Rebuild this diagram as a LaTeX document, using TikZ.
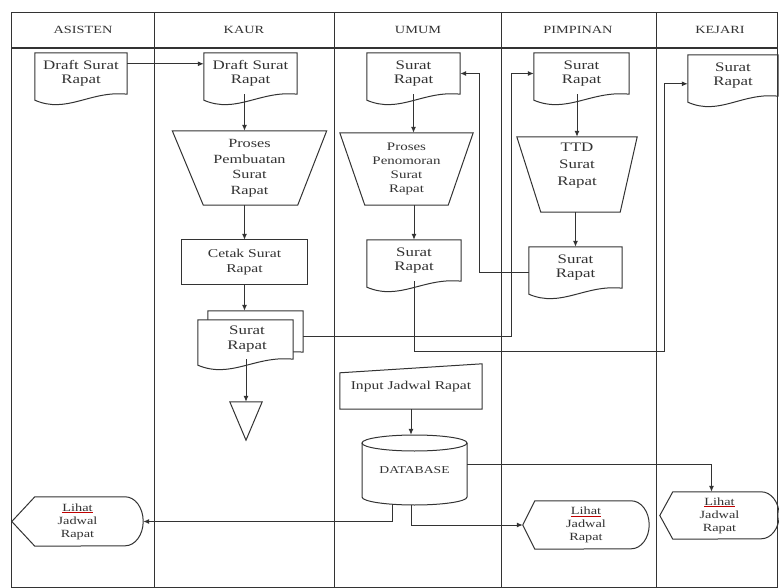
\documentclass[tikz,border=0pt]{standalone}
\usepackage{fontspec}
\setmainfont{Liberation Serif}[FakeStretch=1.3]
\usetikzlibrary{calc,arrows.meta}
\definecolor{ink}{HTML}{333333}
\newcommand\txt{\fontsize{12}{14.5}\selectfont}
\newcommand\dctxt{\fontsize{13}{14.5}\selectfont}
\newcommand\hdr{\fontsize{11}{13}\selectfont}
\newcommand\dtxt{\fontsize{11}{13}\selectfont}
\newcommand\docshape[2][]{\draw[ln,#1] (#2.north west) -- (#2.north east) -- (#2.south east) .. controls ($(#2.south east)!0.4!(#2.south west)+(0,-4)$) and ($(#2.south west)!0.35!(#2.south east)+(0,20)$) .. ($(#2.south west)+(0,6)$) -- cycle;}
\newcommand\trapshape[3]{\draw[ln] (#1.north west) -- (#1.north east) -- ($(#1.south east)+(-#3,0)$) -- ($(#1.south west)+(#2,0)$) -- cycle;}
\newcommand\dispshape[3]{\draw[ln] (#1.west) -- ($(#1.north west)+(#2,0)$) -- ($(#1.north east)+(-18,0)$) arc[start angle=270, end angle=450, x radius=18, y radius=#3] -- ($(#1.south west)+(#2,0)$) -- cycle;}
\newcommand\lihat{{\color{red!75!black}\underline{\color{ink}Lihat}}}
\tikzset{
  ln/.style={draw=ink, line width=1pt},
  arr/.style={ln, -{Latex[length=6pt,width=5pt]}},
  nb/.style={inner sep=0pt, align=center, font=\txt, text=ink},
  dc/.style={nb, font=\dctxt},
  hd/.style={inner sep=0pt, font=\hdr, text=ink},
}
\begin{document}
\begin{tikzpicture}[x=1pt,y=-1pt]
\fill[white] (0,0) rectangle (779,588);
\useasboundingbox (0,0) rectangle (779,588);
% frame and lanes
\draw[ln] (11,13) rectangle (777,587);
\draw[ln, line width=1.7pt] (11,48) -- (777,48);
\foreach \x in {154,334,501,656} \draw[ln] (\x,13) -- (\x,587);
\node[hd] (hA) at (83,30) {ASISTEN};
\node[hd] (hK) at (244,30) {KAUR};
\node[hd] (hU) at (418,30) {UMUM};
\node[hd] (hP) at (578,30) {PIMPINAN};
\node[hd] (hKj) at (720,30) {KEJARI};

% ASISTEN
\node[dc, minimum width=92pt, minimum height=41pt] (dA) at (81,73.5) {Draft Surat\\Rapat};
\docshape{dA}
% KAUR
\node[dc, minimum width=93pt, minimum height=41pt] (dK) at (250.5,73.5) {Draft Surat\\Rapat};
\docshape{dK}
\node[nb, minimum width=154pt, minimum height=74pt, font=\fontsize{12.5}{15.5}\selectfont] (tK) at (249.5,168) {Proses\\Pembuatan\\Surat\\Rapat};
\trapshape{tK}{31}{29}
\node[nb, minimum width=125pt, minimum height=44pt] (bC) at (244.5,262) {Cetak Surat\\Rapat};
\draw[ln] (bC.north west) rectangle (bC.south east);
\node[nb, minimum width=95pt, minimum height=41pt] (dMb) at (255.5,331.5) {};
\docshape[fill=white]{dMb}
\node[nb, minimum width=95pt, minimum height=39pt] (dM) at (245.5,339.5) {};
\docshape[fill=white]{dM}
\node[dc] (dMt) at (247,339) {Surat\\Rapat};
\node[nb, minimum width=32pt, minimum height=38pt] (tri) at (246,421) {};
\draw[ln] (tri.north west) -- (tri.north east) -- (tri.south) -- cycle;

% UMUM
\node[dc, minimum width=93pt, minimum height=41pt] (dU1) at (413.5,73.5) {Surat\\Rapat};
\docshape{dU1}
\node[nb, minimum width=133pt, minimum height=72pt, font=\fontsize{11.5}{14}\selectfont] (tU) at (406.5,169) {Proses\\Penomoran\\Surat\\Rapat};
\trapshape{tU}{25}{25}
\node[dc, minimum width=94pt, minimum height=41pt] (dU2) at (414,260.5) {Surat\\Rapat};
\docshape{dU2}
\node[nb, minimum width=142pt, minimum height=45pt] (mI) at (411,386.5) {Input Jadwal Rapat};
\draw[ln] (mI.south west) -- ($(mI.north west)+(0,9)$) -- (mI.north east) -- (mI.south east) -- cycle;
\node[nb, minimum width=105pt, minimum height=70pt, font=\fontsize{10.5}{12}\selectfont] (DB) at (414.5,470) {DATABASE};
\draw[ln] (414.5,443) ellipse [x radius=52.5, y radius=8];
\draw[ln] (362,443) -- (362,497) arc[start angle=180, end angle=0, x radius=52.5, y radius=8] -- (467,443);

% PIMPINAN
\node[dc, minimum width=95pt, minimum height=41pt] (dP1) at (581.5,73.5) {Surat\\Rapat};
\docshape{dP1}
\node[nb, minimum width=120pt, minimum height=75pt] (tP) at (577,174.5) {};
\trapshape{tP}{24}{17}
\node[nb, font=\fontsize{13}{17}\selectfont] (tPt) at (577,166) {TTD\\Surat\\Rapat};
\node[dc, minimum width=93pt, minimum height=41pt] (dP2) at (575.5,267.5) {Surat\\Rapat};
\docshape{dP2}

% KEJARI
\node[dc, minimum width=90pt, minimum height=41pt] (dKj) at (733,75.5) {Surat\\Rapat};
\docshape{dKj}

% displays
\node[nb, font=\dtxt, minimum width=131pt, minimum height=49pt] (dAd) at (77.5,521.5) {\lihat\\Jadwal\\Rapat};
\dispshape{dAd}{23}{24.5}
\node[nb, font=\dtxt, minimum width=126pt, minimum height=48pt] (dPd) at (586,525) {\lihat\\Jadwal\\Rapat};
\dispshape{dPd}{12}{24}
\node[nb, font=\dtxt, minimum width=119pt, minimum height=47pt] (dKd) at (719.5,515.5) {\lihat\\Jadwal\\Rapat};
\dispshape{dKd}{13}{23.5}

% connectors
\coordinate (v1) at (511,0);
\coordinate (v2) at (479,0);
\coordinate (v3) at (664,0);
\coordinate (h3) at (0,351);
\draw[arr] ($(dA.north east)+(0,11)$) -- ($(dK.north west)+(0,11)$);
\draw[arr] ($(dK.south)+(-6,0)$) coordinate (k1) -- (k1 |- tK.north);
\draw[arr] (bC.north |- tK.south) -- (bC.north);
\draw[arr] (bC.south) -- (bC.south |- dMb.north);
\draw[arr] (tri.north |- dM.south) -- (tri.north);
\draw[arr] ($(dMb.east)+(0,5)$) coordinate (m1) -- (m1 -| v1) |- (dP1.west);
\draw[arr] ($(dP2.west)+(0,5)$) coordinate (p1) -- (p1 -| v2) |- (dU1.east);
\draw[arr] (dU1.south) -- (dU1.south |- tU.north);
\draw[arr] (dU2.north |- tU.south) -- (dU2.north);
\draw[arr] (dU2.south) |- (v3 |- h3) |- ($(dKj.north west)+(0,29)$);
\draw[arr] (tP.north |- dP1.south) -- (tP.north);
\draw[arr] (dP2.north |- tP.south) -- (dP2.north);
\draw[arr] (mI.south) -- (mI.south |- DB.north);
\draw[arr] ($(DB.east)+(0,-6)$) -| ($(dKd.north)+(-8,0)$);
\draw[arr] ($(DB.south)+(-22,-1)$) |- (dAd.east);
\draw[arr] ($(DB.south)+(-3,0)$) |- (dPd.west);
\end{tikzpicture}
\end{document}
